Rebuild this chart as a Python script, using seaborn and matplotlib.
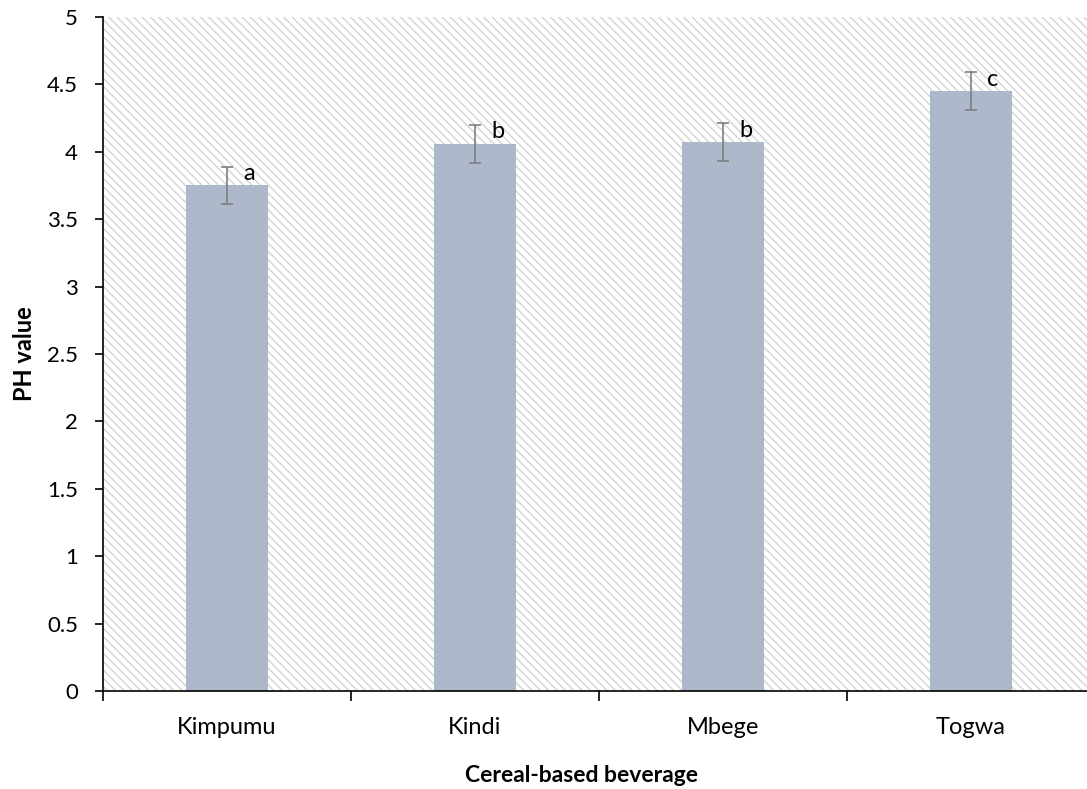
import matplotlib
matplotlib.use("Agg")
import matplotlib.pyplot as plt
import seaborn as sns
import pandas as pd
from matplotlib.patches import Rectangle

beverages = ["Kimpumu", "Kindi", "Mbege", "Togwa"]
ph_values = [3.75, 4.06, 4.07, 4.45]
ph_errors = [0.14, 0.14, 0.14, 0.14]
letters = ["a", "b", "b", "c"]

sns.set_style("white")
plt.rcParams['font.family'] = ['Lato', 'DejaVu Sans']
plt.rcParams['hatch.linewidth'] = 1.0
plt.rcParams['hatch.color'] = '#d4d4d4'
for k in ['text.color', 'axes.labelcolor', 'xtick.color', 'ytick.color']:
    plt.rcParams[k] = 'black'

df = pd.DataFrame({"beverage": beverages, "ph": ph_values})

fig = plt.figure(figsize=(10.87, 7.89), dpi=100)
# plot area runs slightly past the right edge of the figure, as in the original
ax = fig.add_axes([0.0948, 0.1242, 0.9126, 0.8543])

# hatched plot area background
ax.add_patch(Rectangle((0, 0), 1, 1, transform=ax.transAxes, facecolor='white',
                       edgecolor='#d4d4d4', hatch='\\' * 4, linewidth=0, zorder=0))

sns.barplot(data=df, x="beverage", y="ph", color="#adb9ca", saturation=1,
            width=0.33, errorbar=None, linewidth=0, ax=ax, zorder=2)
ax.errorbar(range(len(beverages)), ph_values, yerr=ph_errors, fmt='none',
            ecolor='#7f7f7f', elinewidth=1.2, capsize=4.3, capthick=1.2, zorder=3)

for i, (v, e, t) in enumerate(zip(ph_values, ph_errors, letters)):
    ax.text(i + 0.065, v + e - 0.1, t, fontsize=17, ha='left', va='baseline', zorder=4)

ax.set_ylim(0, 5)
ax.set_xlim(-0.5, 3.5)
ax.set_yticks([0, 0.5, 1, 1.5, 2, 2.5, 3, 3.5, 4, 4.5, 5])
ax.set_yticklabels(["0", "0.5", "1", "1.5", "2", "2.5", "3", "3.5", "4", "4.5", "5"])
ax.set_xticks([-0.5, 0.5, 1.5, 2.5, 3.5], minor=False)
ax.set_xticklabels([])
ax.set_xticks(range(len(beverages)), minor=True)
ax.set_xticklabels(beverages, minor=True)
ax.tick_params(axis='x', which='minor', bottom=True, length=0, pad=19, labelsize=17)
ax.tick_params(axis='x', which='major', bottom=True, direction='out', length=7, width=1.2)
ax.tick_params(axis='y', left=True, direction='out', length=6, width=1.2, labelsize=16, pad=12)

for s in ['top', 'right']:
    ax.spines[s].set_visible(False)
for s in ['left', 'bottom']:
    ax.spines[s].set_color('black')
    ax.spines[s].set_linewidth(1.2)

ax.set_xlabel("")
ax.set_ylabel("PH value", fontsize=17, fontweight='bold', labelpad=8)
# x title centred on the visible plot area
fig.text((103 + 1060) / 2 / 1087, 1 - 775 / 789, "Cereal-based beverage",
         fontsize=16.5, fontweight='bold', ha='center', va='center')

fig.savefig("out.png", dpi=100)
